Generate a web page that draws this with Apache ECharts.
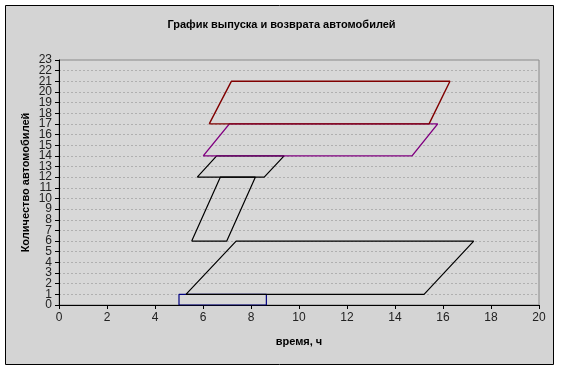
<!DOCTYPE html>
<html><head><meta charset="utf-8">
<script src="https://cdn.jsdelivr.net/npm/echarts@6/dist/echarts.min.js"></script>
<style>html,body{margin:0;padding:0;background:#fff}#c{width:563px;height:370px}</style>
</head><body><div id="c"></div>
<script>
const titleText = 'График выпуска и возврата автомобилей';
const xName = 'время, ч';
const yName = 'Количество автомобилей';
const xTicks = {min: 0, max: 20, interval: 2};
const yTicks = {min: 0, max: 23, interval: 1};
const yLabels = ['0','1','2','3','4','5','6','7','8','9','10','11','12','13','14','15','16','17','18','19','20','21','22','23'];

// Shapes (closed outlines), [time, cars]
const blueRect = [[8.64,0],[8.64,1],[5,1],[5,0],[8.64,0]];
const blackLow = [[5.29,1],[15.21,1],[17.28,6],[7.38,6],[5.29,1]];
const blackMid = [[5.53,6],[6.99,6],[8.18,12],[6.72,12],[5.53,6]];
const blackUp = [[5.76,12],[8.55,12],[9.38,14],[6.57,14],[5.76,12]];
const purpleShape = [[6.01,14],[14.71,14],[15.78,17],[7.1,17],[6.01,14]];
const redShape = [[6.26,17],[15.42,17],[16.29,21],[7.18,21],[6.26,17]];

const font = '"Liberation Sans", Arial, sans-serif';
function ser(data, color, w) {
  return {type:'line', data:data, showSymbol:false, symbol:'none', animation:false,
    lineStyle:{color:color, width:w}, z:3};
}
const chart = echarts.init(document.getElementById('c'), null, {renderer:'canvas'});
chart.setOption({
  backgroundColor:'#fff',
  animation:false,
  graphic:[{type:'rect', z:-10, shape:{x:5.5,y:5.5,width:548,height:359},
    style:{fill:'#d4d4d4', stroke:'#000', lineWidth:1}}],
  title:{text:titleText, left:'center', top:14,
    textStyle:{fontFamily:font, fontSize:11, fontWeight:'bold', color:'#000'}},
  grid:{left:59, right:24, top:60, bottom:65, show:true, backgroundColor:'#d8d8d8',
    borderColor:'#8a8a8a', borderWidth:1},
  xAxis:{type:'value', min:xTicks.min, max:xTicks.max, interval:xTicks.interval,
    name:xName, nameLocation:'middle', nameGap:31, nameMoveOverlap:false,
    nameTextStyle:{fontFamily:font, fontSize:11, fontWeight:'bold', color:'#000'},
    axisLine:{show:true, lineStyle:{color:'#000', width:1}},
    axisTick:{show:true, inside:false, length:4, lineStyle:{color:'#000'}},
    axisLabel:{fontFamily:font, fontSize:12, color:'#222', margin:7, showMinLabel:true, showMaxLabel:true},
    splitLine:{show:false}},
  yAxis:[{type:'value', min:yTicks.min, max:yTicks.max, interval:yTicks.interval,
    axisLine:{show:true, lineStyle:{color:'#000', width:1}},
    axisTick:{show:true, inside:false, length:4, lineStyle:{color:'#000'}},
    axisLabel:{show:false},
    splitLine:{show:true, lineStyle:{color:'#b0b0b0', type:[2,2], width:1}}},
   {type:'category', data:yLabels, boundaryGap:false, position:'left', offset:0,
    name:yName, nameLocation:'middle', nameGap:28, nameMoveOverlap:false,
    nameTextStyle:{fontFamily:font, fontSize:11, fontWeight:'bold', color:'#000'},
    axisLine:{show:false}, axisTick:{show:false}, splitLine:{show:false},
    axisLabel:{interval:0, fontFamily:font, fontSize:12, color:'#222', margin:7}}],
  series:[
    ser(blueRect, '#000080', 1.2),
    ser(blackLow, '#000', 1.2),
    ser(blackMid, '#000', 1.2),
    ser(blackUp, '#000', 1.2),
    ser(purpleShape, '#800080', 1.4),
    ser(redShape, '#800000', 1.4)
  ]
});
</script></body></html>
